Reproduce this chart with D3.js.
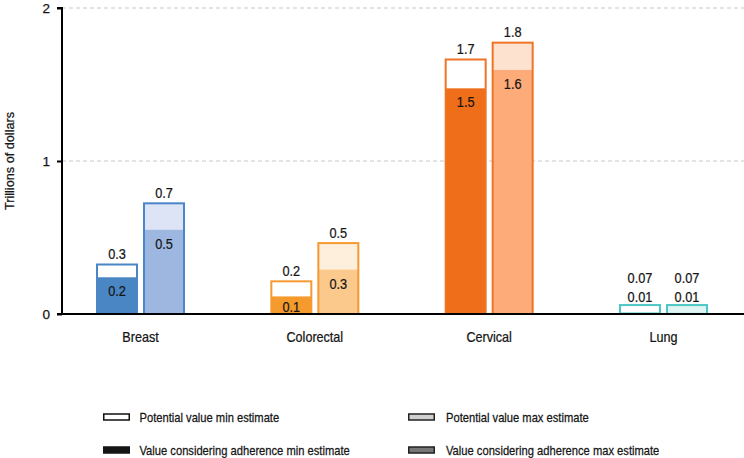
<!DOCTYPE html>
<html>
<head>
<meta charset="utf-8">
<script src="https://cdn.jsdelivr.net/npm/d3@7"></script>
<style>
  html, body { margin: 0; padding: 0; background: #fff; }
  svg { display: block; font-family: "Liberation Sans", Arial, sans-serif; }
  svg text { stroke: #151515; stroke-width: 0.25px; }
</style>
</head>
<body>
<svg id="chart" width="744" height="458"></svg>
<script>
const categories = ["Breast", "Colorectal", "Cervical", "Lung"];
const potentialMin = [0.33, 0.22, 1.67, 0.065];
const adherenceMin = [0.24, 0.115, 1.475, 0.01];
const potentialMax = [0.73, 0.47, 1.78, 0.065];
const adherenceMax = [0.55, 0.29, 1.595, 0.01];
const labelPotentialMin = ["0.3", "0.2", "1.7", "0.07"];
const labelAdherenceMin = ["0.2", "0.1", "1.5", "0.01"];
const labelPotentialMax = ["0.7", "0.5", "1.8", "0.07"];
const labelAdherenceMax = ["0.5", "0.3", "1.6", "0.01"];
const yTicks = [0, 1, 2];
const legendLabels = ["Potential value min estimate", "Potential value max estimate",
  "Value considering adherence min estimate", "Value considering adherence max estimate"];

const strokeColors = ["#4a86c8", "#f59a32", "#ef7425", "#4fc6c6"];
const adherenceMinFill = ["#4a86c4", "#f59a2c", "#ee6e1a", "#4fc6c6"];
const adherenceMaxFill = ["#9db7e1", "#fcc98c", "#fdab78", "#bfe9e9"];
const potentialMaxFill = ["#dce4f6", "#feeedc", "#fde3cf", "#e0f4f4"];

const svg = d3.select("#chart");
const mLeft = 62, mRight = 744, mTop = 8, mBottom = 314;

const y = d3.scaleLinear().domain([0, 2]).range([mBottom, mTop]);
const x = d3.scalePoint().domain(categories).range([140.5, 663.5]);
const barW = 42, gap = 5;

// condensed text helper
function ctext(sel, tx, ty, str, size, sx, anchor, rot) {
  return sel.append("text")
    .attr("transform", `translate(${tx},${ty})${rot ? " rotate(" + rot + ")" : ""} scale(${sx},1)`)
    .attr("text-anchor", anchor || "start")
    .attr("font-size", size).attr("fill", "#151515").text(str);
}

// grid
svg.append("g").selectAll("line").data(yTicks.filter(d => d > 0)).join("line")
  .attr("x1", mLeft).attr("x2", mRight)
  .attr("y1", d => y(d)).attr("y2", d => y(d))
  .attr("stroke", "#c8c8c8").attr("stroke-width", 1).attr("stroke-dasharray", "4,3");

// y axis
const yAxis = d3.axisLeft(y).tickValues(yTicks).tickFormat(d3.format("d")).tickSize(5).tickPadding(7);
const ga = svg.append("g").attr("transform", `translate(${mLeft},0)`).call(yAxis);
ga.select(".domain").attr("stroke", "#000").attr("stroke-width", 2).attr("d", `M-5,${mTop}H0V${mBottom}`);
ga.selectAll(".tick line").attr("stroke", "#000").attr("stroke-width", 2);
ga.selectAll(".tick text").attr("font-size", 13.5).attr("fill", "#151515").attr("font-family", null)
  .attr("dy", "0.36em");

ctext(svg, 13.5, y(1), "Trillions of dollars", 13.5, 0.94, "middle", -90);

const data = categories.map((c, i) => ({ c, i }));

function drawBar(offset, potVals, adhVals, potFill, adhFill, potLabels, adhLabels) {
  const g = svg.append("g");
  data.forEach(d => {
    const x0 = x(d.c) + offset;
    const pv = potVals[d.i], av = adhVals[d.i];
    g.append("rect").attr("x", x0 + 1).attr("width", barW - 2)
      .attr("y", y(pv) + 1).attr("height", y(0) - y(pv) - 1)
      .attr("fill", potFill[d.i]).attr("stroke", "none");
    g.append("rect").attr("x", x0 + 1).attr("width", barW - 2)
      .attr("y", y(av)).attr("height", y(0) - y(av))
      .attr("fill", adhFill[d.i]).attr("stroke", "none");
    g.append("rect").attr("x", x0 + 1).attr("width", barW - 2)
      .attr("y", y(pv) + 1).attr("height", y(0) - y(pv) - 1)
      .attr("fill", "none").attr("stroke", strokeColors[d.i]).attr("stroke-width", 2);
    const cx = x0 + barW / 2;
    const small = (y(0) - y(av)) < 10;
    if (small) {
      ctext(g, cx, y(pv) - 2, adhLabels[d.i], 14.5, 0.88, "middle");
      ctext(g, cx, y(pv) - 21, potLabels[d.i], 14.5, 0.88, "middle");
    } else {
      ctext(g, cx, y(pv) - 4.5, potLabels[d.i], 14.5, 0.88, "middle");
      ctext(g, cx, Math.min(y(av) + 19, y(0) - 2), adhLabels[d.i], 14.5, 0.88, "middle");
    }
  });
}

drawBar(-gap / 2 - barW, potentialMin, adherenceMin, categories.map(() => "#fff"), adherenceMinFill, labelPotentialMin, labelAdherenceMin);
drawBar(gap / 2, potentialMax, adherenceMax, potentialMaxFill, adherenceMaxFill, labelPotentialMax, labelAdherenceMax);

// baseline
svg.append("line").attr("x1", mLeft - 5).attr("x2", mRight).attr("y1", mBottom).attr("y2", mBottom)
  .attr("stroke", "#000").attr("stroke-width", 2);

// category labels
const cg = svg.append("g");
categories.forEach(c => ctext(cg, x(c), 342, c, 14, 0.9, "middle"));

// legend
const legendItems = [
  { label: legendLabels[0], fill: "#fff", stroke: "#111", col: 0, row: 0 },
  { label: legendLabels[1], fill: "#d0d0d0", stroke: "#222", col: 1, row: 0 },
  { label: legendLabels[2], fill: "#151515", stroke: "#151515", col: 0, row: 1 },
  { label: legendLabels[3], fill: "#777", stroke: "#222", col: 1, row: 1 }
];
const lg = svg.append("g");
legendItems.forEach(it => {
  const lx = it.col === 0 ? 103 : 408;
  const ly = it.row === 0 ? 417 : 450;
  lg.append("rect").attr("x", lx + 0.75).attr("y", ly - 3).attr("width", 25.5).attr("height", 6)
    .attr("fill", it.fill).attr("stroke", it.stroke).attr("stroke-width", 1.5);
  ctext(lg, lx + (it.col === 0 ? 36.5 : 38), ly + 4.5, it.label, 13, 0.86, "start");
});
</script>
</body>
</html>
